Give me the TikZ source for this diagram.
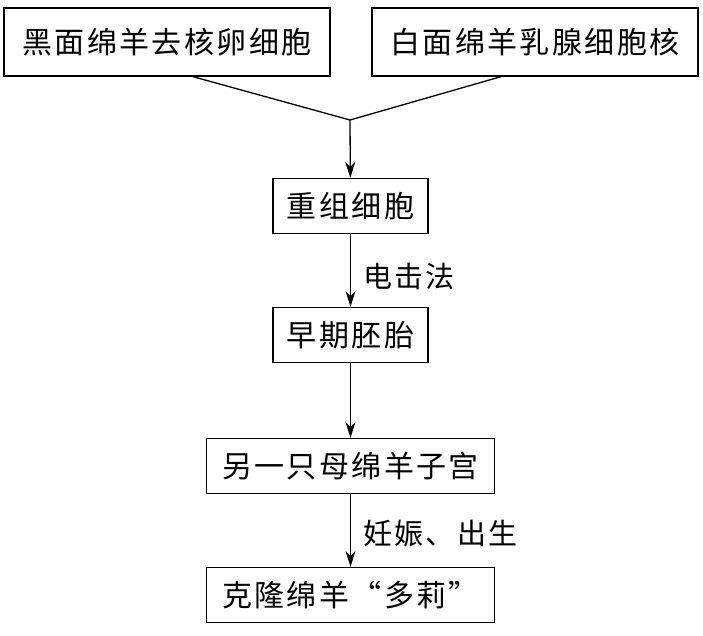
\documentclass[tikz,border=0pt]{standalone}
\usepackage{fontspec}
\newfontfamily\cjk[LetterSpace=8]{Noto Sans CJK SC}
\usetikzlibrary{shapes,arrows.meta}
\tikzstyle{block} = [rectangle, draw, line width=1.3pt, inner xsep=0pt,
minimum height=55pt, font=\cjk\fontsize{30}{36}\selectfont]
\tikzstyle{line} = [draw, line width=1.3pt, -{Stealth[length=16pt,width=10pt]}]
\tikzstyle{mergeline} = [draw, line width=1.3pt]
\tikzstyle{steplabel} = [font=\cjk\fontsize{29}{34}\selectfont, inner xsep=12pt]

\begin{document}
\begin{tikzpicture}[node distance = 129pt, auto]
\useasboundingbox (0,0) rectangle (703pt,-635pt);

% Place nodes
\node [block, minimum width=326pt, minimum height=68pt] (black) at (167pt,-42pt) {黑面绵羊去核卵细胞};
\node [block, minimum width=326pt, minimum height=68pt] (white) at (535pt,-42pt) {白面绵羊乳腺细胞核};
\coordinate (meet) at (350pt,-120pt);
\node [block, minimum width=155pt] (fused) at (350.5pt,-206pt) {重组细胞};
\node [block, minimum width=155pt, below of=fused] (embryo) {早期胚胎};
\node [block, minimum width=288pt, below of=embryo, node distance=131pt] (womb) {另一只母绵羊子宫};
\node [block, minimum width=288pt, below of=womb] (dolly) {克隆绵羊“多莉”};
% Draw edges
\path [mergeline] ([xshift=26pt]black.south) -- (meet);
\path [mergeline] ([xshift=-34pt]white.south) -- (meet);
\path [line] (meet) -- (fused);
\path [line] (fused) -- node [steplabel, yshift=-6pt] {电击法} (embryo);
\path [line] (embryo) -- (womb);
\path [line] (womb) -- node [steplabel, yshift=-3pt] {妊娠、出生} (dolly);
\end{tikzpicture}
\end{document}
